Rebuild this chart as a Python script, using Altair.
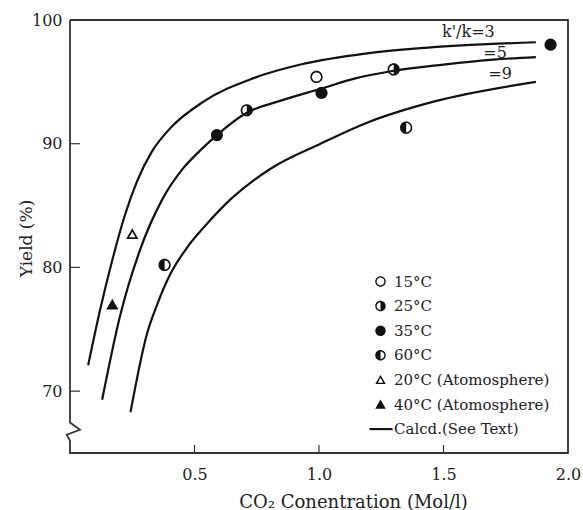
import altair as alt
import pandas as pd

FONT = "DejaVu Serif"
INK = "#222222"

# ---- legend categories (in order) ----
series_names = ["15°C", "25°C", "35°C", "60°C",
                "20°C (Atomosphere)", "40°C (Atomosphere)", "Calcd.(See Text)"]

# ---- measured points ----
pt_series = ["15°C", "25°C", "25°C", "35°C", "35°C", "35°C", "60°C", "60°C",
             "20°C (Atomosphere)", "40°C (Atomosphere)"]
pt_x = [0.99, 0.71, 1.30, 0.59, 1.01, 1.93, 0.38, 1.35, 0.25, 0.17]
pt_y = [95.4, 92.7, 96.0, 90.7, 94.1, 98.0, 80.2, 91.3, 82.7, 77.0]

# ---- calculated curves (k'/k = 3, 5, 9) ----
c3_x = [0.073, 0.12, 0.17, 0.22, 0.27, 0.33, 0.40, 0.536, 0.737, 0.926, 1.193, 1.46, 1.871]
c3_y = [72.1, 76.5, 80.6, 84.2, 87.0, 89.4, 91.2, 93.4, 95.3, 96.4, 97.3, 97.8, 98.2]
c5_x = [0.129, 0.2, 0.281, 0.368, 0.45, 0.52, 0.59, 0.71, 0.85, 1.0, 1.15, 1.3, 1.5, 1.7, 1.871]
c5_y = [69.3, 76.0, 81.4, 85.4, 87.9, 89.4, 90.7, 92.5, 93.5, 94.4, 95.3, 95.9, 96.4, 96.8, 97.0]
c9_x = [0.243, 0.31, 0.35, 0.404, 0.47, 0.54, 0.65, 0.807, 1.006, 1.193, 1.46, 1.871]
c9_y = [68.3, 74.7, 77.0, 79.5, 81.6, 83.3, 85.6, 88.0, 90.0, 91.7, 93.4, 95.0]

# ---- curve labels ----
lab_text = ["k'/k=3", "=5", "=9"]
lab_x = [1.60, 1.707, 1.727]
lab_y = [99.0, 97.3, 95.6]

# ---- axis ticks ----
x_ticks = [0.5, 1.0, 1.5, 2.0]
y_ticks = [70, 80, 90, 100]

# ---- frame with axis break ----
frame_x = [0, 2, 2, 0, 0, -0.013, 0.04, 0, 0]
frame_y = [100, 100, 65, 65, 65.99, 66.48, 66.88, 67.47, 100]

# symbol shapes
ring = ("M0,-1A1,1 0 1,1 0,1A1,1 0 1,1 0,-1Z "
        "M0,-0.74A0.74,0.74 0 1,0 0,0.74A0.74,0.74 0 1,0 0,-0.74Z")
left_black = ("M0,-1A1,1 0 1,1 0,1A1,1 0 1,1 0,-1Z "
              "M0,-0.74L0,0.74A0.74,0.74 0 0,0 0,-0.74Z")
right_black = ("M0,-1A1,1 0 1,1 0,1A1,1 0 1,1 0,-1Z "
               "M0,0.74L0,-0.74A0.74,0.74 0 0,0 0,0.74Z")
tri_open = "M0,-0.95L1,0.8L-1,0.8Z M0,-0.39L-0.52,0.52L0.52,0.52Z"
tri_fill = "M0,-0.95L1,0.8L-1,0.8Z"
line_sym = "M-2.1,-0.2L2.3,-0.2L2.3,0.2L-2.1,0.2Z"
shape_range = [ring, right_black, "circle", left_black, tri_open, tri_fill, line_sym]

W, H = 498, 433

pts = pd.DataFrame({"x": pt_x, "y": pt_y, "series": pt_series})
curves = pd.concat([
    pd.DataFrame({"x": c3_x, "y": c3_y, "curve": "3", "i": range(len(c3_x))}),
    pd.DataFrame({"x": c5_x, "y": c5_y, "curve": "5", "i": range(len(c5_x))}),
    pd.DataFrame({"x": c9_x, "y": c9_y, "curve": "9", "i": range(len(c9_x))}),
])
labels = pd.DataFrame({"x": lab_x, "y": lab_y, "t": lab_text})
frame = pd.DataFrame({"x": frame_x, "y": frame_y, "i": range(len(frame_x))})
xt = pd.DataFrame({"x": x_ticks[:-1]})
yt = pd.DataFrame({"y": y_ticks[:-1]})

xscale = alt.Scale(domain=[0, 2], nice=False, zero=False)
yscale = alt.Scale(domain=[65, 100], nice=False, zero=False)
xaxis = alt.Axis(values=x_ticks, format=".1f", domain=False, ticks=False, tickSize=0,
                 grid=False, labelFlush=False, labelPadding=13,
                 title="CO₂ Conentration (Mol/l)", titleX=283, titleY=54,
                 titleBaseline="alphabetic", titleFontSize=18)
yaxis = alt.Axis(values=y_ticks, domain=False, ticks=False, tickSize=0, grid=False,
                 labelPadding=8, labelFlush=False, title="Yield (%)",
                 titleX=-39, titleY=218, titleBaseline="alphabetic", titleAngle=270)
X = alt.X("x:Q", scale=xscale, axis=xaxis)
Y = alt.Y("y:Q", scale=yscale, axis=yaxis)

frame_l = alt.Chart(frame).mark_line(color="#333333", strokeWidth=1.8).encode(
    x=X, y=Y, order="i:O")

curve_l = alt.Chart(curves).mark_line(color="#111111", strokeWidth=2.2,
                                      interpolate="monotone").encode(
    x=X, y=Y, detail="curve:N", order="i:Q")

xtick_l = alt.Chart(xt).mark_rule(color="#333333", strokeWidth=1.2).encode(
    x=X, y=alt.value(H - 8), y2=alt.value(H))
ytick_l = alt.Chart(yt).mark_rule(color="#333333", strokeWidth=1.2).encode(
    y=Y, x=alt.value(0), x2=alt.value(10))

pts_l = alt.Chart(pts).mark_point(filled=True, color="#111111", size=150,
                                  opacity=1, strokeWidth=0).encode(
    x=X, y=Y,
    shape=alt.Shape("series:N",
                    scale=alt.Scale(domain=series_names, range=shape_range),
                    legend=alt.Legend(title=None, orient="none", legendX=303, legendY=254,
                                      symbolSize=110, labelOffset=6, rowPadding=8.6,
                                      symbolFillColor="#111111", symbolStrokeWidth=0,
                                      symbolOpacity=1, padding=0)))

text_l = alt.Chart(labels).mark_text(font=FONT, fontSize=16, color=INK,
                                     baseline="middle", align="center").encode(
    x=X, y=Y, text="t:N")

chart = alt.layer(frame_l, curve_l, xtick_l, ytick_l, pts_l, text_l).properties(
    width=W, height=H, autosize="none",
    padding={"left": 70, "top": 20, "right": 15, "bottom": 57},
).configure_view(stroke=None).configure_axis(
    labelFont=FONT, labelFontSize=16, labelColor=INK,
    titleFont=FONT, titleFontSize=17, titleColor=INK, titleFontWeight="normal",
).configure_legend(
    labelFont=FONT, labelFontSize=15, labelColor=INK,
)

chart.save("out.html", embed_options={"renderer": "svg", "actions": False})
